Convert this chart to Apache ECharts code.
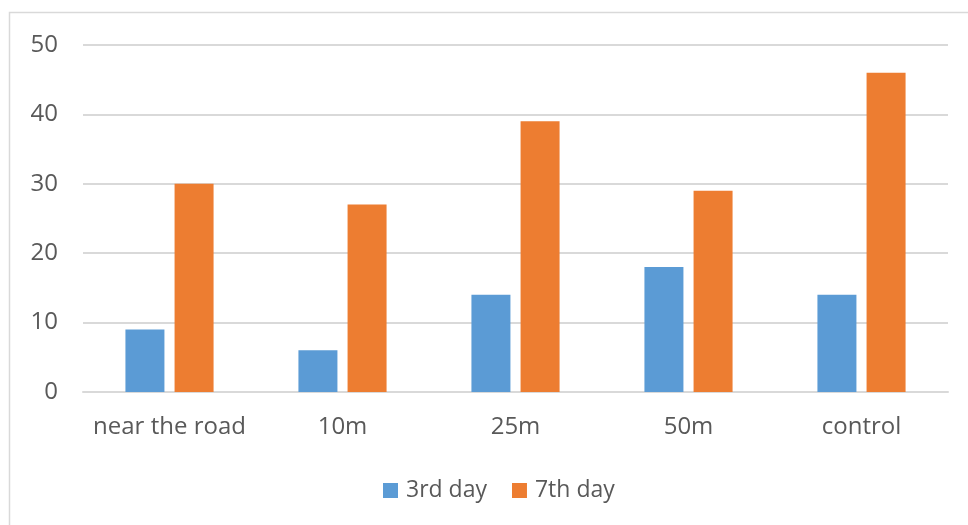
<!DOCTYPE html>
<html><head><meta charset="utf-8">
<script src="https://cdn.jsdelivr.net/npm/echarts@6/dist/echarts.min.js"></script>
<style>html,body{margin:0;padding:0;background:#fff}#c{width:968px;height:525px}</style>
</head><body><div id="c"></div>
<script>
const categories = ["near the road", "10m", "25m", "50m", "control"];
const day3 = [9, 6, 14, 18, 14];
const day7 = [30, 27, 39, 29, 46];
const yTicks = [0, 10, 20, 30, 40, 50];

const chart = echarts.init(document.getElementById('c'));
const font = '"Open Sans", sans-serif';
chart.setOption({
  animation: false,
  graphic: [{type:'rect', shape:{x:9.5, y:12.5, width:1000, height:1000}, style:{fill:'none', stroke:'#d9d9d9', lineWidth:1.5}, silent:true}],
  grid: {left: 83, right: 20, top: 45, bottom: 133},
  legend: {
    top: 474, left: 378, itemWidth: 15, itemHeight: 15, itemGap: 25,
    icon: 'rect',
    textStyle: {color: '#595959', fontSize: 23, fontFamily: font, padding: [0,0,0,3]}
  },
  xAxis: {
    type: 'category', data: categories,
    axisLine: {lineStyle: {color: '#d9d9d9', width: 2}},
    axisTick: {show: false},
    axisLabel: {color: '#595959', fontSize: 24, fontFamily: font, margin: 23, interval: 0}
  },
  yAxis: {
    type: 'value', min: yTicks[0], max: yTicks[yTicks.length-1], interval: 10,
    axisLine: {show: false}, axisTick: {show: false},
    axisLabel: {color: '#595959', fontSize: 24, fontFamily: font, margin: 25},
    splitLine: {lineStyle: {color: '#d9d9d9', width: 2}}
  },
  series: [
    {name: '3rd day', type: 'bar', data: day3, barWidth: 39, barGap: '26%', itemStyle: {color: '#5B9BD5'}},
    {name: '7th day', type: 'bar', data: day7, barWidth: 39, itemStyle: {color: '#ED7D31'}}
  ]
});
</script></body></html>
